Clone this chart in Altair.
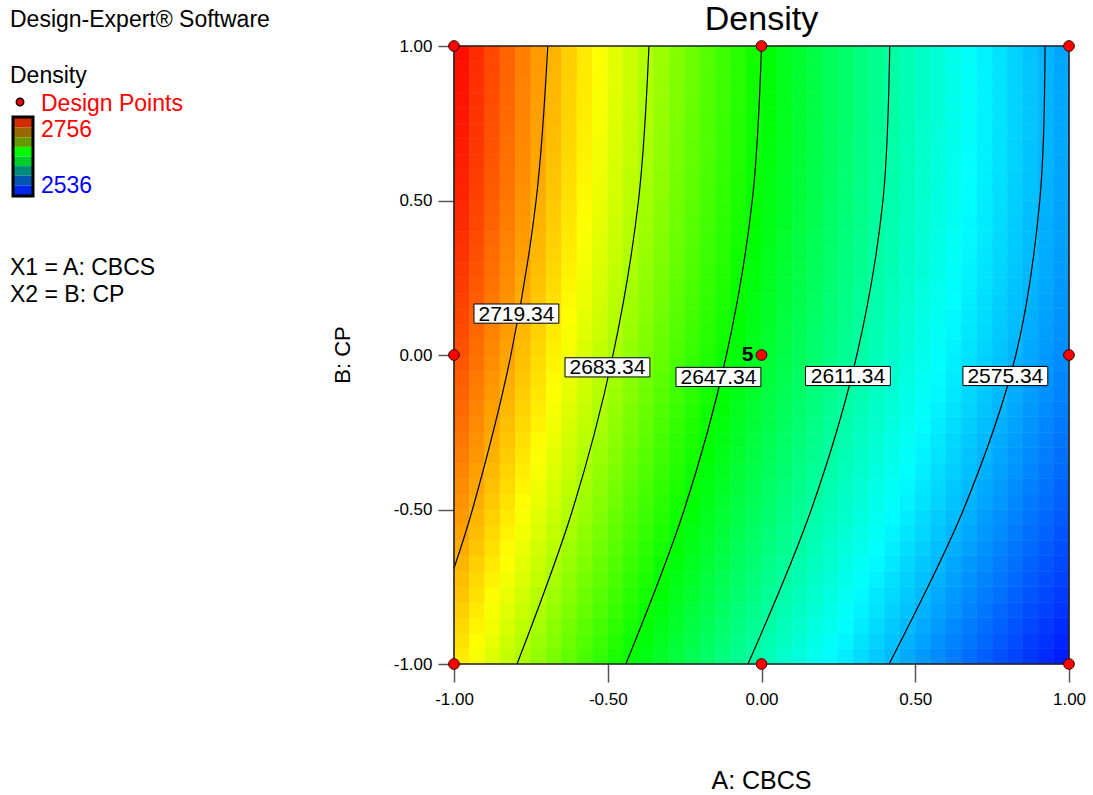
import altair as alt
import numpy as np
import pandas as pd

FONT = "Liberation Sans"

# ---- data -------------------------------------------------------------
# Quadratic response-surface coefficients (coded units) for Density
coef_names = ["Intercept", "A", "B", "AB", "A^2", "B^2"]
coef_values = [2637.1, -88.05, 19.82, -4.75, 15.8, -9.58]
grid_cells = 40

# design points (coded) and replicate counts
design_A = [-1, 0, 1, -1, 0, 1, -1, 0, 1]
design_B = [1, 1, 1, 0, 0, 0, -1, -1, -1]
design_reps = [1, 1, 1, 1, 5, 1, 1, 1, 1]

# contour lines
contour_levels = [2719.34, 2683.34, 2647.34, 2611.34, 2575.34]
c2719_A = [-0.695, -0.733, -0.815, -0.940, -1.000]
c2719_B = [1.0, 0.5, 0.0, -0.5, -0.69]
c2683_A = [-0.366, -0.400, -0.483, -0.614, -0.795]
c2647_A = [0.000, -0.030, -0.114, -0.251, -0.441]
c2611_A = [0.417, 0.395, 0.310, 0.162, -0.044]
c2575_A = [0.922, 0.905, 0.827, 0.657, 0.415]
contour_B = [1.0, 0.5, 0.0, -0.5, -1.0]

# contour label centres
label_A = [-0.797, -0.501, -0.140, 0.281, 0.793]
label_B = [0.134, -0.040, -0.071, -0.068, -0.068]

# colour map of the surface and of the small legend bar
surface_stops = [2536, 2591, 2646, 2701, 2756]
surface_colors = ["#0000FF", "#00FFFF", "#00FF00", "#FFFF00", "#FF0000"]
legend_swatches = ["#D02C00", "#9A6800", "#689800", "#00F800", "#00CC2A",
                   "#008A78", "#0056AE", "#0026EA"]
legend_max, legend_min = "2756", "2536"

# ---- tables ------------------------------------------------------------
step = 2.0 / grid_cells
rows = []
for i in range(grid_cells):
    for j in range(grid_cells):
        a0, b0 = -1 + i * step, -1 + j * step
        a, b = a0 + step / 2, b0 + step / 2
        c = coef_values
        y = c[0] + c[1] * a + c[2] * b + c[3] * a * b + c[4] * a * a + c[5] * b * b
        rows.append({"A0": a0, "A1": a0 + step, "B0": b0, "B1": b0 + step, "Y": y})
heat_df = pd.DataFrame(rows)

crow = []
for lvl, aa, bb in [(contour_levels[0], c2719_A, c2719_B),
                    (contour_levels[1], c2683_A, contour_B),
                    (contour_levels[2], c2647_A, contour_B),
                    (contour_levels[3], c2611_A, contour_B),
                    (contour_levels[4], c2575_A, contour_B)]:
    for a, b in zip(aa, bb):
        crow.append({"level": lvl, "A": a, "B": b})
cont_df = pd.DataFrame(crow)

lab_df = pd.DataFrame({"level": contour_levels, "A": label_A, "B": label_B})
pts_df = pd.DataFrame({"A": design_A, "B": design_B, "reps": design_reps})
sw_df = pd.DataFrame({"k": list(range(len(legend_swatches))), "c": legend_swatches})

# ---- scales / axes -----------------------------------------------------
xs = alt.Scale(domain=[-1, 1], nice=False, zero=False)
ys = alt.Scale(domain=[-1, 1], nice=False, zero=False)
tick_vals = [-1, -0.5, 0, 0.5, 1]
lab_expr = "(datum.value < 0 ? '-' : '') + format(abs(datum.value), '.2f')"
xaxis = alt.Axis(values=tick_vals, labelExpr=lab_expr, title="", grid=False, domain=False,
                 tickSize=18, tickColor="#555555", tickWidth=1.5, labelPadding=9,
                 labelFont=FONT, labelFontSize=17, labelColor="black",
                 labelFlush=False, labelOverlap=False)
yaxis = alt.Axis(values=tick_vals, labelExpr=lab_expr, title="", grid=False, domain=False,
                 tickSize=16, tickColor="#555555", tickWidth=1.5, labelPadding=6,
                 labelFont=FONT, labelFontSize=17, labelColor="black",
                 labelFlush=False, labelOverlap=False)

heat = alt.Chart(heat_df).mark_rect(strokeWidth=0.6).encode(
    x=alt.X("A0:Q", scale=xs, axis=xaxis),
    x2="A1:Q",
    y=alt.Y("B0:Q", scale=ys, axis=yaxis),
    y2="B1:Q",
    color=alt.Color("Y:Q", scale=alt.Scale(domain=surface_stops, range=surface_colors,
                                           interpolate="rgb"), legend=None),
    stroke=alt.Stroke("Y:Q", scale=alt.Scale(domain=surface_stops, range=surface_colors,
                                             interpolate="rgb"), legend=None),
)

lines = alt.Chart(cont_df).mark_line(color="black", strokeWidth=1.2,
                                     interpolate="catmull-rom").encode(
    x=alt.X("A:Q", scale=xs, axis=xaxis),
    y=alt.Y("B:Q", scale=ys, axis=yaxis),
    detail="level:N",
    order="B:Q",
)

boxes = alt.Chart(lab_df).transform_calculate(
    x0="datum.A - 0.138", x1="datum.A + 0.138",
    y0="datum.B - 0.031", y1="datum.B + 0.031",
).mark_rect(fill="white", stroke="black", strokeWidth=1).encode(
    x=alt.X("x0:Q", scale=xs, axis=xaxis), x2="x1:Q",
    y=alt.Y("y0:Q", scale=ys, axis=yaxis), y2="y1:Q",
)

box_text = alt.Chart(lab_df).mark_text(font=FONT, fontSize=21, color="black",
                                       baseline="middle", dy=1).encode(
    x=alt.X("A:Q", scale=xs, axis=xaxis),
    y=alt.Y("B:Q", scale=ys, axis=yaxis),
    text=alt.Text("level:Q", format=".2f"),
)

frame = alt.Chart(pd.DataFrame({"v": [0]})).mark_rect(
    fill="transparent", stroke="#222222", strokeWidth=1.6).encode(
    x=alt.X(datum=-1, scale=xs, axis=xaxis), x2=alt.X2(datum=1),
    y=alt.Y(datum=-1, scale=ys, axis=yaxis), y2=alt.Y2(datum=1),
)

points = alt.Chart(pts_df).mark_circle(size=115, color="#FF0000", opacity=1,
                                       stroke="#3a0000", strokeWidth=1).encode(
    x=alt.X("A:Q", scale=xs, axis=xaxis),
    y=alt.Y("B:Q", scale=ys, axis=yaxis),
)

reps_text = alt.Chart(pts_df).transform_filter("datum.reps > 1").mark_text(
    font=FONT, fontSize=21, fontWeight="bold", align="right", baseline="middle",
    dx=-8, color="black").encode(
    x=alt.X("A:Q", scale=xs, axis=xaxis),
    y=alt.Y("B:Q", scale=ys, axis=yaxis),
    text="reps:Q",
)


def txt(s, x, y, size=23, color="black", align="left", baseline="alphabetic", angle=0):
    return alt.Chart(pd.DataFrame({"t": [s]})).mark_text(
        font=FONT, fontSize=size, color=color, align=align, baseline=baseline,
        angle=angle).encode(text="t:N", x=alt.value(x), y=alt.value(y))


texts = [
    txt("Density", 307.5, -26, size=34, align="center", baseline="middle"),
    txt("A: CBCS", 307.5, 743, size=25, align="center"),
    txt("B: CP", -111, 309, size=22, align="center", baseline="middle", angle=270),
    txt("Design-Expert® Software", -444, -19),
    txt("Density", -444, 36.7),
    txt("Design Points", -413, 64.7, color="#FF0000"),
    txt(legend_max, -413, 91.3, color="#FF0000"),
    txt(legend_min, -413, 146.7, color="#0000FF"),
    txt("X1 = A: CBCS", -444, 229.3),
    txt("X2 = B: CP", -444, 255.5),
]

legend_dot = alt.Chart(pd.DataFrame({"v": [0]})).mark_circle(
    size=55, color="#FF0000", opacity=1, stroke="black", strokeWidth=1.5).encode(
    x=alt.value(-434), y=alt.value(56))

main = alt.layer(heat, lines, boxes, box_text, frame, points, reps_text,
                 legend_dot, *texts)

swatches = alt.Chart(sw_df).mark_rect().encode(
    x=alt.value(-440), x2=alt.value(-422),
    y=alt.Y("k:O", scale=alt.Scale(range=[72, 149], paddingInner=0, paddingOuter=0),
            axis=None),
    color=alt.Color("c:N", scale=None),
)
sw_border = alt.Chart(pd.DataFrame({"v": [0]})).mark_rect(
    fill="transparent", stroke="black", strokeWidth=3).encode(
    x=alt.value(-441), x2=alt.value(-421), y=alt.value(71), y2=alt.value(150))

chart = alt.layer(main, swatches, sw_border).resolve_scale(
    y="independent", color="independent", x="independent"
).properties(
    width=615, height=618,
    padding={"left": 454, "top": 46, "right": 24, "bottom": 131},
    autosize=alt.AutoSizeParams(type="none"),
    background="white",
).configure_view(strokeWidth=0)

chart.save("out.html", embed_options={"renderer": "svg", "actions": False})
